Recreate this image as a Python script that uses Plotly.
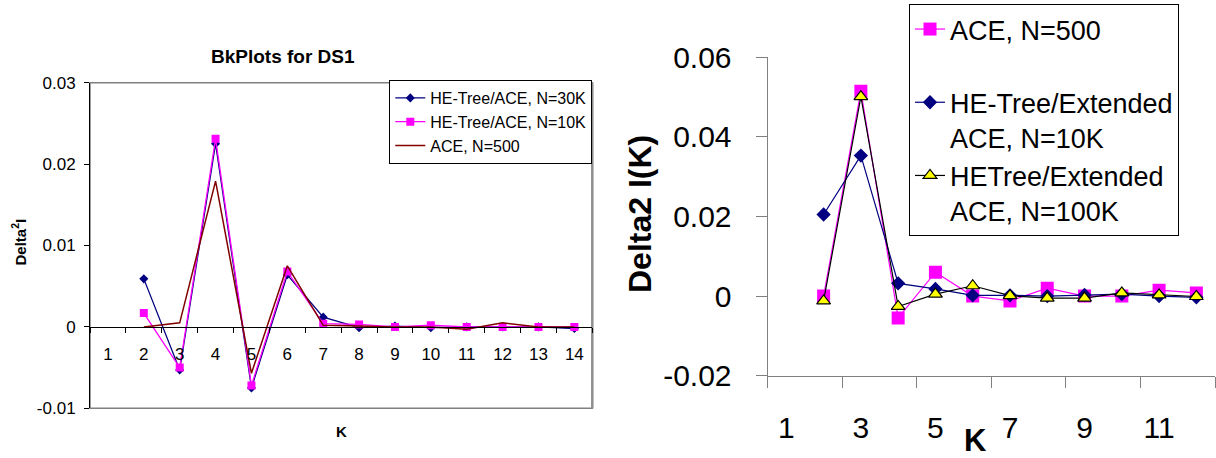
import plotly.graph_objects as go

# ---------------- data ----------------
# Left chart: BkPlots for DS1 (categories K = 1..14, series start at K=2)
left_categories = list(range(1, 15))
left_k = list(range(2, 15))
left_he_30k = [0.0059, -0.0053, 0.0225, -0.0075, 0.0064, 0.0012, -0.0001, 0.0001, -0.0001, 0.0, 0.0, 0.0, -0.0002]
left_he_10k = [0.0017, -0.0050, 0.0231, -0.0072, 0.0068, 0.0004, 0.0003, 0.0, 0.0002, 0.0, 0.0, 0.0, 0.0]
left_ace_500 = [0.0, 0.0005, 0.0179, -0.0057, 0.0075, 0.0002, 0.0001, 0.0, 0.0, -0.0003, 0.0005, 0.0, 0.0]
left_yticks = [-0.01, 0.0, 0.01, 0.02, 0.03]
left_ytext = ["-0.01", "0", "0.01", "0.02", "0.03"]

# Right chart (categories K = 1..12, series start at K=2)
right_categories = list(range(1, 13))
right_k = list(range(2, 13))
right_ace_500 = [0.0, 0.0515, -0.0055, 0.0060, 0.0, -0.0012, 0.0020, 0.0, 0.0, 0.0015, 0.0008]
right_he_10k = [0.0205, 0.0353, 0.0032, 0.0018, 0.0002, 0.0002, 0.0, 0.0003, 0.0005, 0.0, -0.0003]
right_he_100k = [-0.0012, 0.0501, -0.0026, 0.0005, 0.0026, 0.0001, -0.0005, -0.0005, 0.0008, 0.0003, -0.0001]
right_xlabels = [1, 3, 5, 7, 9, 11]
right_yticks = [-0.02, 0.0, 0.02, 0.04, 0.06]
right_ytext = ["-0.02", "0", "0.02", "0.04", "0.06"]

# ---------------- layout helpers ----------------
W, H = 1216, 458
FONT = "Liberation Sans, Arial, sans-serif"


def px(x):
    return x / W


def py(y):
    return 1 - y / H


L_X = [px(90), px(592.3)]
L_Y = [py(408.3), py(82.7)]
R_X = [px(767.7), px(1215)]
R_Y = [py(375.7), py(57.3)]

L_RANGE = [-0.01, 0.03]
zero_pos = L_Y[0] + (L_Y[1] - L_Y[0]) * (0 - L_RANGE[0]) / (L_RANGE[1] - L_RANGE[0])

fig = go.Figure()

# Left chart traces
fig.add_trace(go.Scatter(
    x=left_k, y=left_he_30k, mode="lines+markers", name="HE-Tree/ACE, N=30K",
    line=dict(color="#000080", width=1.3), marker=dict(symbol="diamond", size=7, color="#000080"),
    xaxis="x", yaxis="y", legend="legend", legendgroup="a"))
fig.add_trace(go.Scatter(
    x=left_k, y=left_he_10k, mode="lines+markers", name="HE-Tree/ACE, N=10K",
    line=dict(color="#FF00FF", width=1.3), marker=dict(symbol="square", size=8, color="#FF00FF"),
    xaxis="x", yaxis="y", legend="legend", legendgroup="b"))
fig.add_trace(go.Scatter(
    x=left_k, y=left_ace_500, mode="lines", name="ACE, N=500",
    line=dict(color="#800000", width=1.5),
    xaxis="x", yaxis="y", legend="legend", legendgroup="c"))

# Right chart traces
fig.add_trace(go.Scatter(
    x=right_k, y=right_ace_500, mode="lines+markers", name="ACE, N=500<br> ",
    line=dict(color="#FF00FF", width=1.2), marker=dict(symbol="square", size=13, color="#FF00FF"),
    xaxis="x2", yaxis="y2", legend="legend2"))
fig.add_trace(go.Scatter(
    x=right_k, y=right_he_10k, mode="lines+markers", name="HE-Tree/Extended<br>ACE, N=10K",
    line=dict(color="#000080", width=1.2), marker=dict(symbol="diamond", size=11, color="#000080"),
    xaxis="x2", yaxis="y2", legend="legend2"))
fig.add_trace(go.Scatter(
    x=right_k, y=right_he_100k, mode="lines+markers", name="HETree/Extended<br>ACE, N=100K",
    line=dict(color="#000000", width=1.2),
    marker=dict(symbol="triangle-up", size=12, color="#FFFF00", line=dict(color="#000000", width=1.2)),
    xaxis="x2", yaxis="y2", legend="legend2"))

fig.update_layout(
    width=W, height=H,
    margin=dict(l=0, r=0, t=0, b=0, autoexpand=False),
    paper_bgcolor="white", plot_bgcolor="white",
    font=dict(family=FONT, color="black"),
    showlegend=True,
    xaxis=dict(
        domain=L_X, range=[0.5, 14.5], anchor="free", position=zero_pos,
        tickmode="array", tickvals=left_categories, ticktext=[str(c) for c in left_categories],
        ticks="", showgrid=False, zeroline=False, showline=True, linecolor="black", linewidth=1,
        tickfont=dict(size=17, family=FONT), ticklabelstandoff=12,
        minor=dict(tickmode="array", tickvals=[c - 0.5 for c in left_categories] + [14.5],
                   ticks="outside", ticklen=5, tickcolor="black", tickwidth=1, showgrid=False),
    ),
    yaxis=dict(
        domain=L_Y, range=L_RANGE, anchor="x",
        tickmode="array", tickvals=left_yticks, ticktext=left_ytext,
        ticks="outside", ticklen=5, tickcolor="black", showgrid=False, zeroline=False,
        showline=True, linecolor="black", linewidth=1,
        tickfont=dict(size=17, family=FONT), ticklabelstandoff=5,
    ),
    xaxis2=dict(
        domain=R_X, range=[0.5, 12.5], anchor="y2",
        tickmode="array", tickvals=right_xlabels, ticktext=[str(c) for c in right_xlabels],
        ticks="", showgrid=False, zeroline=False, showline=True, linecolor="#808080", linewidth=1.3,
        tickfont=dict(size=30, family=FONT), ticklabelstandoff=25,
        minor=dict(tickmode="array", tickvals=[0.5, 2.5, 4.5, 6.5, 8.5, 10.5, 12.5],
                   ticks="outside", ticklen=11, tickcolor="#808080", tickwidth=1.3, showgrid=False),
    ),
    yaxis2=dict(
        domain=R_Y, range=[-0.02, 0.06], anchor="x2",
        tickmode="array", tickvals=right_yticks, ticktext=right_ytext,
        ticks="outside", ticklen=11, tickcolor="#808080", tickwidth=1.3, showgrid=False, zeroline=False,
        showline=True, linecolor="#808080", linewidth=1.3,
        tickfont=dict(size=30, family=FONT), ticklabelstandoff=18,
    ),
    legend=dict(
        x=px(592.3), xanchor="right", y=py(80), yanchor="top",
        bgcolor="white", bordercolor="black", borderwidth=1,
        font=dict(size=16, family=FONT), tracegroupgap=0, traceorder="grouped",
        entrywidth=183, entrywidthmode="pixels",
    ),
    legend2=dict(
        x=px(909), xanchor="left", y=py(4), yanchor="top",
        bgcolor="white", bordercolor="black", borderwidth=1,
        font=dict(size=27, family=FONT), valign="top",
        entrywidth=255, entrywidthmode="pixels",
    ),
    shapes=[
        dict(type="rect", xref="x domain", yref="y domain", x0=0, x1=1, y0=0, y1=1,
             line=dict(color="#808080", width=1.5), layer="below"),
        dict(type="line", xref="x domain", yref="y domain", x0=1, x1=1, y0=0, y1=1,
             line=dict(color="#909090", width=2.5), layer="below"),
    ],
    annotations=[
        dict(text="<b>BkPlots for DS1</b>", x=px(283), y=py(56.7), xref="paper", yref="paper",
             showarrow=False, xanchor="center", yanchor="middle", font=dict(size=19, family=FONT)),
        dict(text="<b>Delta<sup>2</sup>I</b>", x=px(18.5), y=py(242), xref="paper", yref="paper",
             showarrow=False, xanchor="center", yanchor="middle", textangle=-90,
             font=dict(size=15, family=FONT)),
        dict(text="<b>K</b>", x=px(341.7), y=py(431.7), xref="paper", yref="paper",
             showarrow=False, xanchor="center", yanchor="middle", font=dict(size=15, family=FONT)),
        dict(text="<b>Delta2 I(K)</b>", x=px(640), y=py(214), xref="paper", yref="paper",
             showarrow=False, xanchor="center", yanchor="middle", textangle=-90,
             font=dict(size=32, family=FONT)),
        dict(text="<b>K</b>", x=px(975), y=py(440), xref="paper", yref="paper",
             showarrow=False, xanchor="center", yanchor="middle", font=dict(size=31, family=FONT)),
    ],
)

fig.write_html("out.html", config={"displayModeBar": False},
               post_script="document.body.style.margin='0px';")
